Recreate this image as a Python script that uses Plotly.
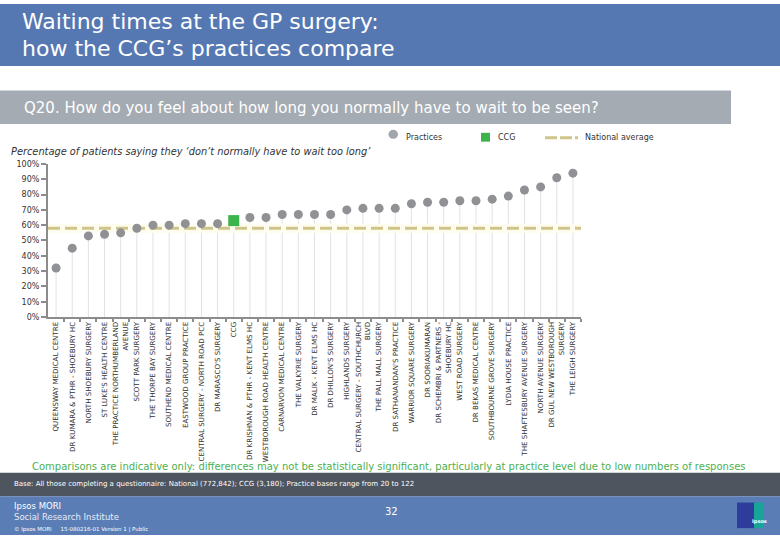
import plotly.graph_objects as go

categories = [
    "QUEENSWAY MEDICAL CENTRE",
    "DR KUMARA & PTHR - SHOEBURY HC",
    "NORTH SHOEBURY SURGERY",
    "ST LUKE'S HEALTH CENTRE",
    "THE PRACTICE NORTHUMBERLAND<br>AVENUE",
    "SCOTT PARK SURGERY",
    "THE THORPE BAY SURGERY",
    "SOUTHEND MEDICAL CENTRE",
    "EASTWOOD GROUP PRACTICE",
    "CENTRAL SURGERY - NORTH ROAD PCC",
    "DR MARASCO'S SURGERY",
    "CCG",
    "DR KRISHNAN & PTHR - KENT ELMS HC",
    "WESTBOROUGH ROAD HEALTH CENTRE",
    "CARNARVON MEDICAL CENTRE",
    "THE VALKYRIE SURGERY",
    "DR MALIK - KENT ELMS HC",
    "DR DHILLON'S SURGERY",
    "HIGHLANDS SURGERY",
    "CENTRAL SURGERY - SOUTHCHURCH<br>BLVD",
    "THE PALL MALL SURGERY",
    "DR SATHANANDAN'S PRACTICE",
    "WARRIOR SQUARE SURGERY",
    "DR SOORIAKUMARAN",
    "DR SCHEMBRI & PARTNERS -<br>SHOEBURY HC",
    "WEST ROAD SURGERY",
    "DR BEKAS MEDICAL CENTRE",
    "SOUTHBOURNE GROVE SURGERY",
    "LYDIA HOUSE PRACTICE",
    "THE SHAFTESBURY AVENUE SURGERY",
    "NORTH AVENUE SURGERY",
    "DR GUL NEW WESTBOROUGH<br>SURGERY",
    "THE LEIGH SURGERY",
]
values = [32, 45, 53, 54, 55, 58, 60, 60, 61, 61, 61, 63, 65, 65, 67, 67, 67, 67,
          70, 71, 71, 71, 74, 75, 75, 76, 76, 77, 79, 83, 85, 91, 94]
ccg_name = "CCG"
national_average = 58
y_ticks = [0, 10, 20, 30, 40, 50, 60, 70, 80, 90, 100]
y_tick_labels = [f"{v}%" for v in y_ticks]

W, H = 780, 540
FONT = "DejaVu Sans"

def px(x):
    return x / W

def py(y):
    return 1 - y / H

idx = list(range(len(categories)))
prac_x = [i for i, c in zip(idx, categories) if c != ccg_name]
prac_y = [v for v, c in zip(values, categories) if c != ccg_name]
ccg_x = [i for i, c in zip(idx, categories) if c == ccg_name]
ccg_y = [v for v, c in zip(values, categories) if c == ccg_name]

stem_x, stem_y = [], []
for i, v in zip(idx, values):
    stem_x += [i, i, None]
    stem_y += [0, v, None]

xr = [-0.5, len(categories) - 0.5]

fig = go.Figure()
fig.add_trace(go.Scatter(x=stem_x, y=stem_y, mode="lines",
                         line=dict(color="#e2e2e2", width=1), hoverinfo="skip"))
fig.add_trace(go.Scatter(x=xr, y=[national_average] * 2, mode="lines",
                         line=dict(color="#fdfcef", width=9), hoverinfo="skip"))
fig.add_trace(go.Scatter(x=xr, y=[national_average] * 2, mode="lines",
                         line=dict(color="#cfc58c", width=3, dash="12px,5px"), hoverinfo="skip"))
fig.add_trace(go.Scatter(x=prac_x, y=prac_y, mode="markers",
                         marker=dict(color="#8f9194", size=9, line=dict(width=0))))
fig.add_trace(go.Scatter(x=ccg_x, y=ccg_y, mode="markers",
                         marker=dict(color="#3db34b", size=11, symbol="square", line=dict(width=0))))

axis_col = "#8c8c8c"
fig.update_layout(
    width=W, height=H, autosize=False,
    margin=dict(l=0, r=0, t=0, b=0),
    paper_bgcolor="white", plot_bgcolor="white",
    showlegend=False,
    xaxis=dict(domain=[px(48), px(581)], range=xr,
               tickmode="array", tickvals=idx, ticktext=categories,
               tickangle=-90, ticks="", showgrid=False, zeroline=False,
               showline=True, linecolor=axis_col, linewidth=2,
               tickfont=dict(family=FONT, size=7.1, color="#333333"),
               minor=dict(tickmode="array", tickvals=[i + 0.5 for i in idx],
                          ticks="outside", ticklen=3, tickcolor=axis_col, tickwidth=1.5)),
    yaxis=dict(domain=[py(318.3), py(162.7)], range=[0, 100],
               tickmode="array", tickvals=y_ticks, ticktext=y_tick_labels,
               ticks="outside", ticklen=5, tickcolor=axis_col, tickwidth=1.5,
               showgrid=False, zeroline=False,
               showline=True, linecolor=axis_col, linewidth=2,
               tickfont=dict(family=FONT, size=8, color="#333333")),
)

shapes = [
    dict(type="rect", xref="paper", yref="paper", x0=0, x1=1, y0=py(63), y1=1,
         fillcolor="#5678b2", line_width=0, layer="below"),
    dict(type="rect", xref="paper", yref="paper", x0=0, x1=px(731), y0=py(122), y1=py(88),
         fillcolor="#a4abb3", line_width=0, layer="below"),
    dict(type="rect", xref="paper", yref="paper", x0=0, x1=1, y0=py(500.7), y1=py(476.7),
         fillcolor="#4e555f", line_width=0, layer="below"),
    dict(type="rect", xref="paper", yref="paper", x0=0, x1=1, y0=0, y1=py(500.7),
         fillcolor="#5a7db5", line_width=0, layer="below"),
    # logo
    dict(type="rect", xref="paper", yref="paper", x0=px(737), x1=px(756), y0=py(533), y1=py(507),
         fillcolor="#2e3d9b", line_width=0),
    dict(type="rect", xref="paper", yref="paper", x0=px(754), x1=px(764), y0=py(533), y1=py(507),
         fillcolor="#17a59a", line_width=0),
    # legend
    dict(type="circle", xref="paper", yref="paper", x0=px(388.5), x1=px(398), y0=py(137), y1=py(128),
         fillcolor="#a1a5ac", line_width=0),
    dict(type="rect", xref="paper", yref="paper", x0=px(481), x1=px(490), y0=py(140), y1=py(131),
         fillcolor="#3db34b", line_width=0),
    dict(type="line", xref="paper", yref="paper", x0=px(545), x1=px(578), y0=py(136), y1=py(136),
         line=dict(color="#cfc58c", width=3, dash="12px,3px")),
]
fig.update_layout(shapes=shapes)


def ann(x, y, text, size, color, xanchor="left", family=FONT, **kw):
    fig.add_annotation(x=px(x), y=py(y), xref="paper", yref="paper", text=text,
                       showarrow=False, xanchor=xanchor, yanchor="middle",
                       font=dict(family=family, size=size, color=color), **kw)


ann(20, 18, "Waiting times at the GP surgery:", 22, "white")
ann(20, 45, "how the CCG\u2019s practices compare", 22, "white")
ann(22, 106, "Q20. How do you feel about how long you normally have to wait to be seen?", 15, "white")
ann(404, 136, "Practices", 8, "#333333")
ann(496, 136, "CCG", 8, "#333333")
ann(583, 136, "National average", 8, "#333333")
ann(9, 150, "<i>Percentage of patients saying they \u2018don\u2019t normally have to wait too long\u2019</i>", 9.8, "#333333")
ann(389, 470.5, "Comparisons are indicative only: differences may not be statistically significant, particularly at practice level due to low numbers of responses",
    10, "#4caf50", xanchor="center")
ann(12, 488, "Base: All those completing a questionnaire: National (772,842); CCG (3,180); Practice bases range from 20 to 122", 7, "white")
ann(12, 511, "Ipsos MORI", 8.5, "white")
ann(12, 522, "Social Research Institute", 8.5, "#e6ecf5")
ann(12, 534, "\u00a9 Ipsos MORI&nbsp;&nbsp;&nbsp;&nbsp;&nbsp;15-080216-01 Version 1 | Public", 5.5, "white")
ann(391, 516, "32", 10, "white", xanchor="center")
ann(759, 526, "<b>Ipsos</b>", 5, "white", xanchor="center")

fig.write_html("out.html",
               config={"displayModeBar": False},
               post_script="document.body.style.margin='0';document.body.style.padding='0';"
                           "document.body.style.overflow='hidden';")
